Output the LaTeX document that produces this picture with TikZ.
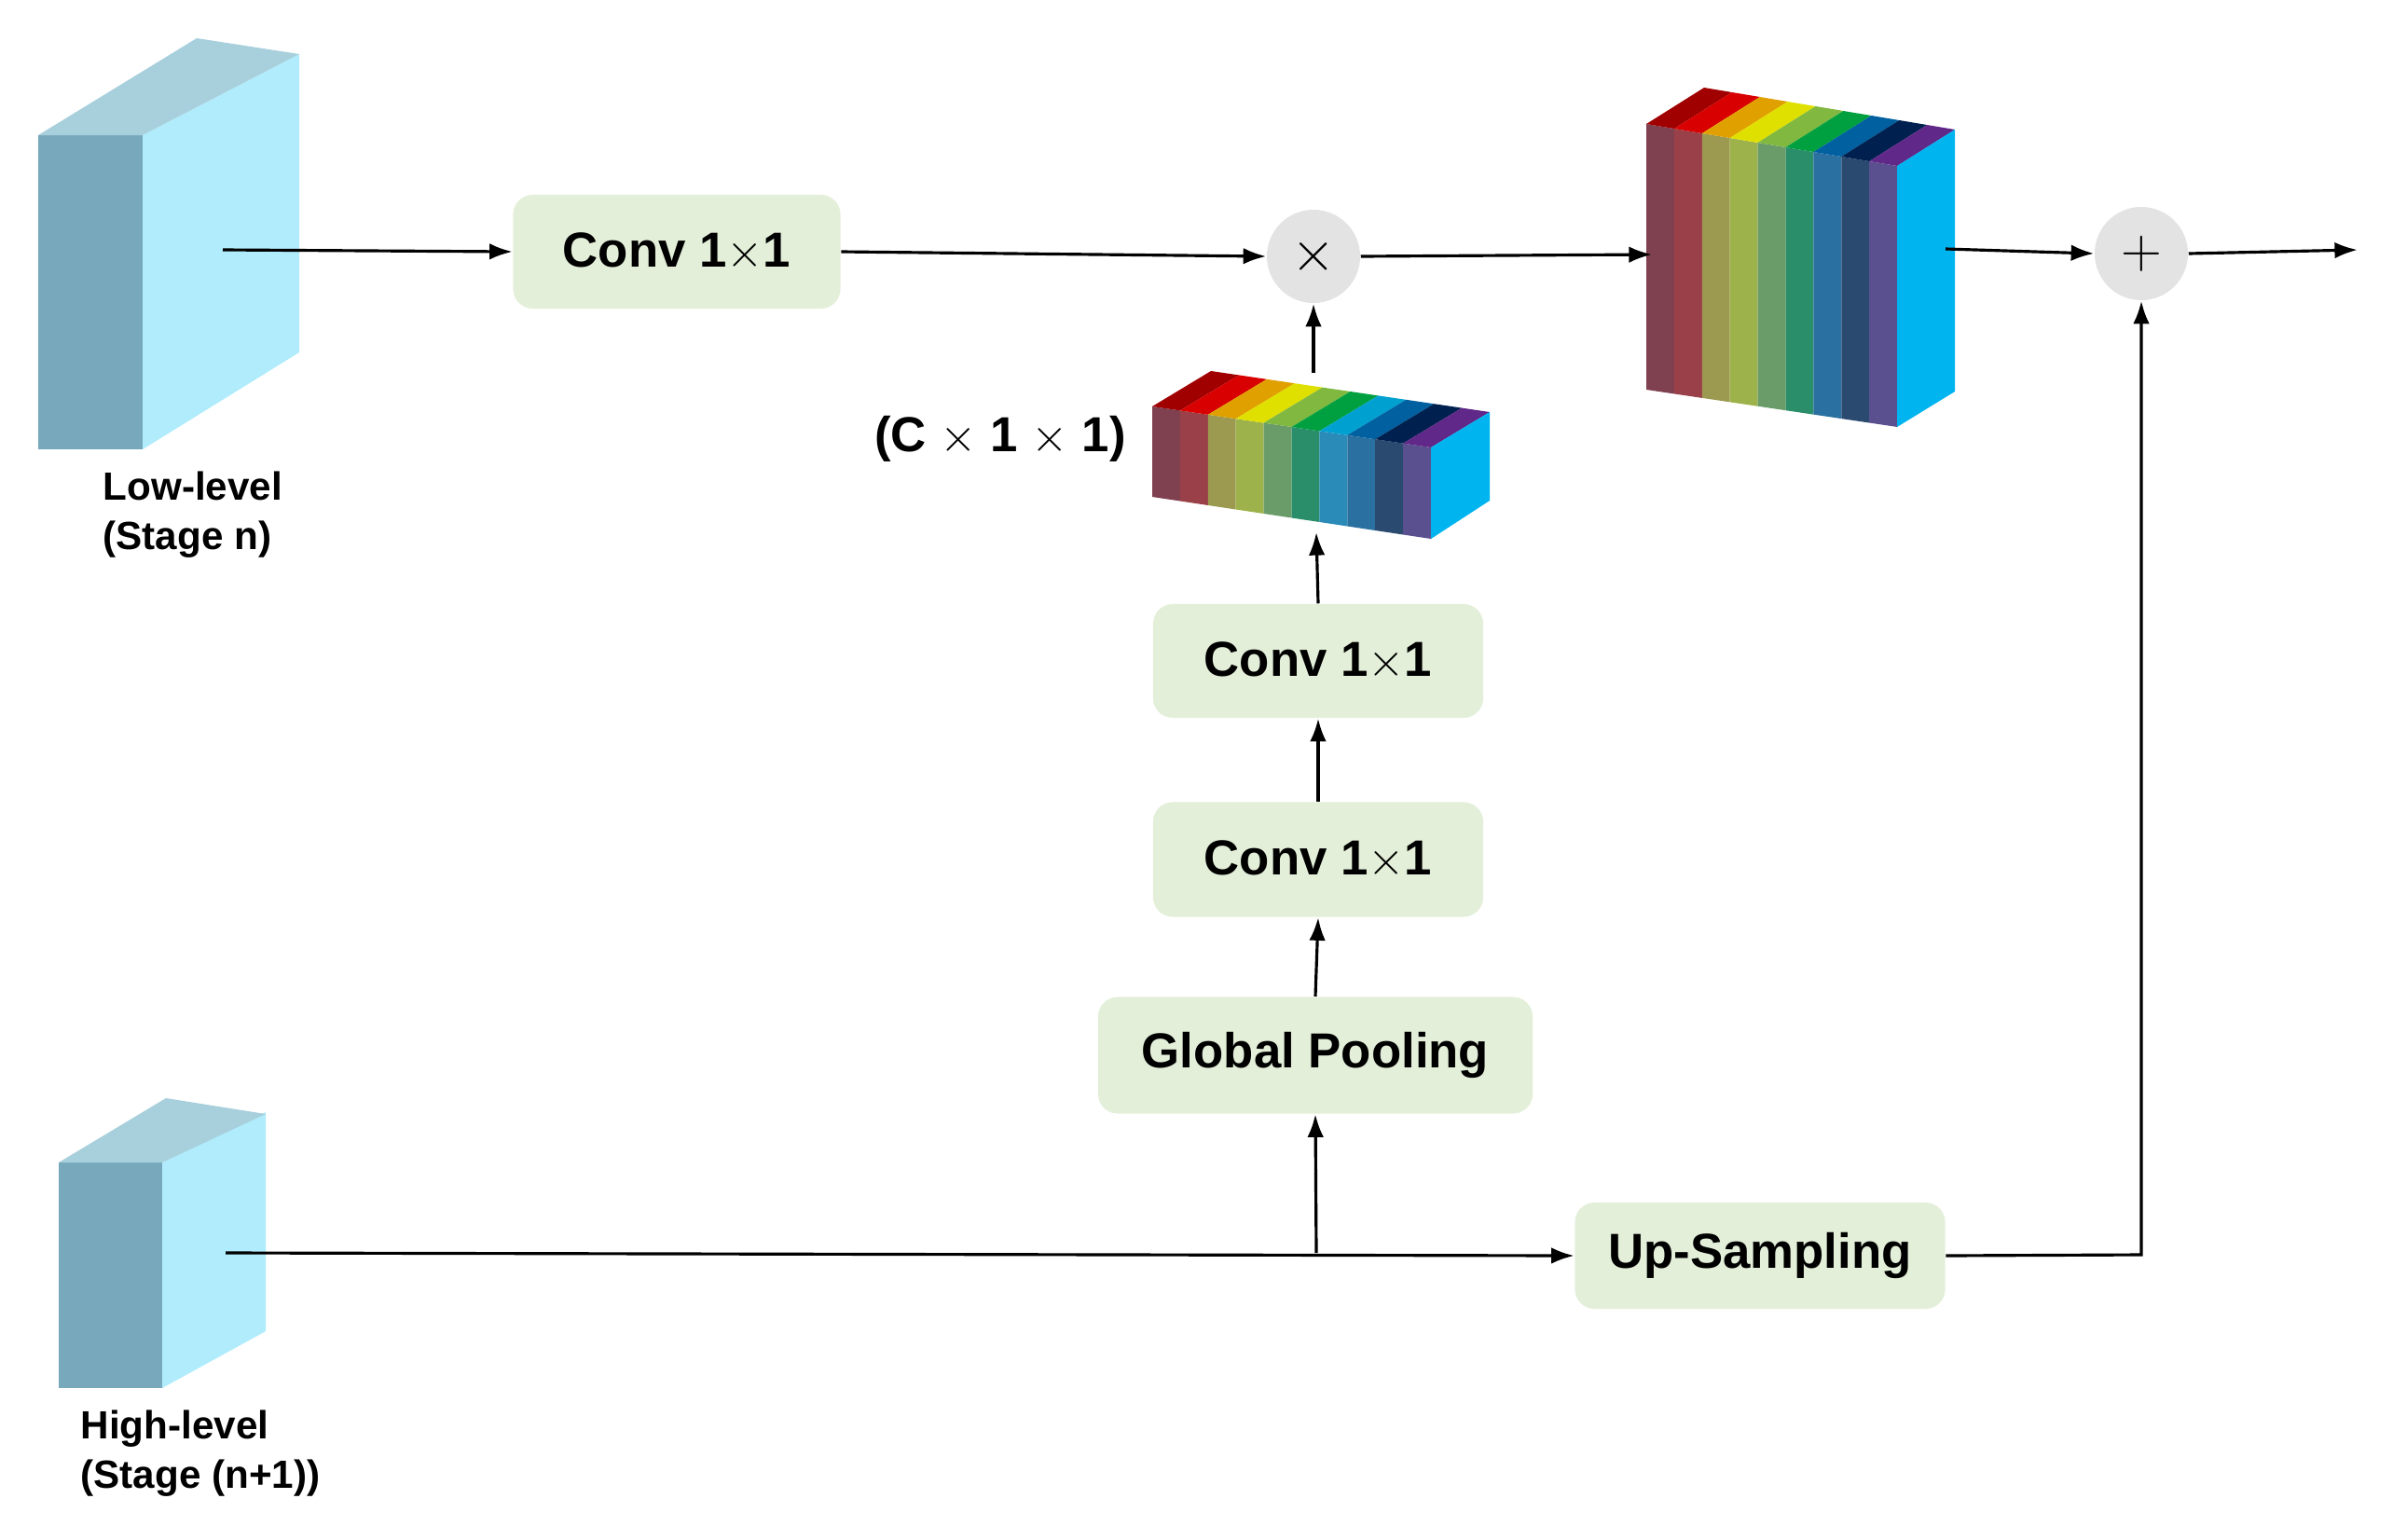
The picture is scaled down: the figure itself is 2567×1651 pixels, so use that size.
\documentclass[tikz,border=0pt]{standalone}
\usepackage{fontspec}
\setmainfont{Liberation Sans}
\usetikzlibrary{arrows.meta}
\begin{document}
\begin{tikzpicture}[x=0.01cm,y=-0.01cm,
  box/.style={fill=green!10!gray!10!white,fill=boxg,rounded corners=6pt,inner sep=0pt,font=\bfseries\fontsize{15}{18}\selectfont},
  op/.style={circle,fill=gray!22,minimum size=1.0cm,inner sep=0pt,font=\fontsize{16}{18}\selectfont},
  lbl/.style={font=\bfseries\fontsize{12}{15}\selectfont,align=left,anchor=north west,inner sep=0pt},
  arr/.style={-{Latex[length=7pt,width=5pt]},line width=0.9pt},
  ln/.style={line width=0.9pt}]
\definecolor{boxg}{HTML}{E3EFD9}
\definecolor{cf}{HTML}{78A8BC}\definecolor{cs}{HTML}{B0ECFC}\definecolor{ct}{HTML}{A8D0DC}
\definecolor{rf}{HTML}{00B4F0}
\useasboundingbox (0,0) rectangle (2567,1651);
% low-level cube
\fill[cf] (41,145) rectangle (153,482);
\fill[cs] (153,145) -- (321,58) -- (321,378) -- (153,482) -- cycle;
\fill[ct] (41,145) -- (211,41) -- (321,58) -- (153,145) -- cycle;
\node[lbl] (ll) at (110,505) {Low-level\\(Stage n)};
% high-level cube
\fill[cf] (63,1247) rectangle (174,1489);
\fill[cs] (174,1247) -- (285,1193) -- (285,1428) -- (174,1489) -- cycle;
\fill[ct] (63,1247) -- (178,1178) -- (285,1195) -- (174,1247) -- cycle;
\node[lbl] (hl) at (86,1512) {High-level\\(Stage (n+1))};
\coordinate (lo) at (239,268);
\coordinate (hi) at (242,1344);
% nodes
\node[box,minimum width=3.51cm,minimum height=1.22cm] (c1) at (726,270) {Conv 1$\times$1};
\node[op] (mul) at (1409,275) {$\times$};
\node[op] (add) at (2297,272) {$+$};
\node[box,minimum width=3.54cm,minimum height=1.22cm] (c2) at (1414,709) {Conv 1$\times$1};
\node[box,minimum width=3.54cm,minimum height=1.23cm] (c3) at (1414,922) {Conv 1$\times$1};
\node[box,minimum width=4.66cm,minimum height=1.25cm] (gp) at (1411,1132) {Global Pooling};
\node[box,minimum width=3.97cm,minimum height=1.14cm] (up) at (1888,1347) {Up-Sampling};
\node[font=\bfseries\fontsize{15}{18}\selectfont] (cc) at (1073,471) {(C $\times$ 1 $\times$ 1)};
% big block
\foreach \c/\t [count=\i from 0] in {7F4050/A00000,9A4048/D80000,9C9A50/E0A000,9DB24A/E0E000,6A9C6A/80B840,2A8E6A/00A040,2A70A0/0060A0,2A4A70/002050,5A5090/602888}{
  \pgfmathsetmacro\xa{1766+29.9*\i}\pgfmathsetmacro\xb{1766+29.9*(\i+1)}
  \pgfmathsetmacro\ya{133+5*\i}\pgfmathsetmacro\yb{133+5*(\i+1)}
  \pgfmathsetmacro\za{418+4.44*\i}\pgfmathsetmacro\zb{418+4.44*(\i+1)}
  \definecolor{tf}{HTML}{\c}\definecolor{tt}{HTML}{\t}
  \fill[tf] (\xa,\ya) -- (\xb,\yb) -- (\xb,\zb) -- (\xa,\za) -- cycle;
  \fill[tt] (\xa,\ya) -- (\xa+62,\ya-39) -- (\xb+62,\yb-39) -- (\xb,\yb) -- cycle;
}
\fill[rf] (2035,178) -- (2097,139) -- (2097,420) -- (2035,458) -- cycle;
\coordinate (bigL) at (1772,273);
\coordinate (bigR) at (2087,267);
% small block
\foreach \c/\t [count=\i from 0] in {7F4050/A00000,9A4048/D80000,9C9A50/E0A000,9DB24A/E0E000,6A9C6A/80B840,2A8E6A/00A040,2A8AB8/00A0D0,2A70A0/0060A0,2A4A70/002050,5A5090/602888}{
  \pgfmathsetmacro\xa{1236+29.9*\i}\pgfmathsetmacro\xb{1236+29.9*(\i+1)}
  \pgfmathsetmacro\ya{436+4.4*\i}\pgfmathsetmacro\yb{436+4.4*(\i+1)}
  \pgfmathsetmacro\za{533+4.5*\i}\pgfmathsetmacro\zb{533+4.5*(\i+1)}
  \definecolor{tf}{HTML}{\c}\definecolor{tt}{HTML}{\t}
  \fill[tf] (\xa,\ya) -- (\xb,\yb) -- (\xb,\zb) -- (\xa,\za) -- cycle;
  \fill[tt] (\xa,\ya) -- (\xa+63,\ya-38) -- (\xb+63,\yb-38) -- (\xb,\yb) -- cycle;
}
\fill[rf] (1535,480) -- (1598,442) -- (1598,537) -- (1535,578) -- cycle;
\coordinate (smT) at (1409,400);
\coordinate (smB) at (1412,571);
\coordinate (br) at (1412,1344);
\coordinate (corner) at (2297,1346);
\coordinate (out) at (2529,268);
% connectors
\draw[arr] (lo) -- (c1.west);
\draw[arr] (c1.east) -- (mul.west);
\draw[arr] (mul.east) -- (bigL);
\draw[arr] (bigR) -- (add.west);
\draw[arr] (add.east) -- (out);
\draw[arr] (smT) -- (mul.south);
\draw[arr] (c2.north) -- (smB);
\draw[arr] (c3.north) -- (c2.south);
\draw[arr] (gp.north) -- (c3.south);
\draw[arr] (hi) -- (up.west);
\draw[arr] (br) -- (gp.south);
\draw[arr] (up.east) -- (corner) -- (add.south);
\end{tikzpicture}
\end{document}
